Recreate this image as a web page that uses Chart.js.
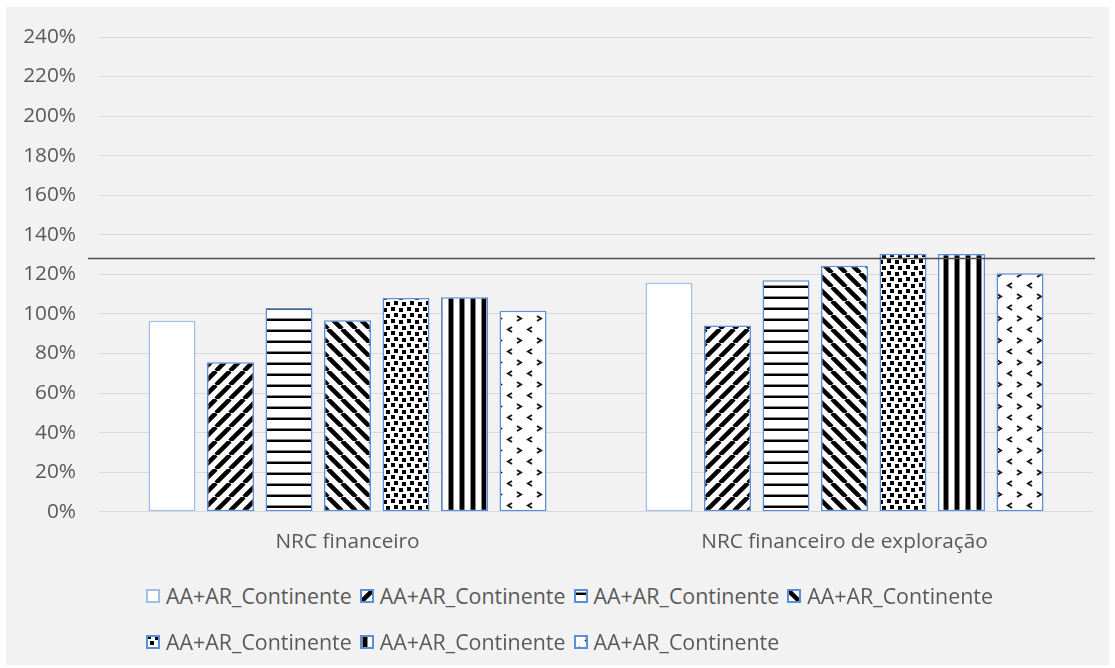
<!DOCTYPE html>
<html lang="pt">
<head>
<meta charset="UTF-8">
<title>NRC financeiro</title>
<script src="https://cdn.jsdelivr.net/npm/chart.js"></script>
<style>
  body { margin: 0; background: #fff; }
  #box { position: absolute; left: 6px; top: 7px; width: 1103px; height: 658px; background: #f2f2f2; }
  #chart { position: absolute; left: 0; top: 0; }
  #legend { position: absolute; left: 140px; top: 577px; width: 880px; display: flex; flex-wrap: wrap; row-gap: 22px;
            font: 21.4px 'Open Sans'; color: #595959; line-height: 24px; }
  .item { display: inline-flex; align-items: center; margin-right: 8px; white-space: nowrap; }
  .item canvas { margin-right: 6px; }
</style>
</head>
<body>
<div id="box">
  <canvas id="chart" width="1103" height="565"></canvas>
  <div id="legend"></div>
</div>

<script>
  const categories = ['NRC financeiro', 'NRC financeiro de exploração'];
  const seriesNames = ['AA+AR_Continente', 'AA+AR_Continente', 'AA+AR_Continente', 'AA+AR_Continente',
                       'AA+AR_Continente', 'AA+AR_Continente', 'AA+AR_Continente'];
  const series1 = [96.6, 115.8];
  const series2 = [75.5, 94.2];
  const series3 = [103.0, 117.0];
  const series4 = [96.8, 124.4];
  const series5 = [108.0, 130.4];
  const series6 = [108.4, 130.3];
  const series7 = [101.6, 120.5];
  const refValue = 128;
  const yTicks = { min: 0, max: 240, step: 20 };

  const allSeries = [series1, series2, series3, series4, series5, series6, series7];
  const fills = ['solid', 'up', 'hlines', 'down', 'confetti', 'vlines', 'divot'];

  // pattern tiles, roughly like the excel pattern fills
  function makePattern(kind) {
    if (kind === 'solid') return '#ffffff';
    const t = document.createElement('canvas');
    const c = t.getContext('2d');
    let w = 14, h = 14;
    if (kind === 'hlines') { w = 8; h = 11; }
    if (kind === 'vlines') { w = 11; h = 8; }
    if (kind === 'confetti') { w = 16; h = 12; }
    if (kind === 'divot') { w = 20; h = 22; }
    t.width = w; t.height = h;
    c.fillStyle = '#fff';
    c.fillRect(0, 0, w, h);
    c.fillStyle = '#000';
    c.strokeStyle = '#000';
    if (kind === 'up' || kind === 'down') {
      c.lineWidth = 4.5;
      c.beginPath();
      for (const o of [-w, 0, w]) {
        if (kind === 'up') { c.moveTo(o, h); c.lineTo(o + w, 0); }
        else { c.moveTo(o, 0); c.lineTo(o + w, h); }
      }
      c.stroke();
    } else if (kind === 'hlines') {
      c.fillStyle = '#888'; c.fillRect(0, 3, w, 1);
      c.fillStyle = '#000'; c.fillRect(0, 4, w, 2);
    } else if (kind === 'vlines') {
      c.fillStyle = '#888'; c.fillRect(2, 0, 1, h); c.fillRect(7, 0, 1, h);
      c.fillStyle = '#000'; c.fillRect(3, 0, 4, h);
    } else if (kind === 'confetti') {
      [[1, 0], [9, 1], [4, 6], [12, 7]].forEach(p => c.fillRect(p[0], p[1], 4, 4));
    } else if (kind === 'divot') {
      c.strokeStyle = '#1a1a1a';
      c.lineWidth = 2;
      c.beginPath();
      c.moveTo(11, 1); c.lineTo(15, 3.5); c.lineTo(11, 6);
      c.moveTo(6, 12); c.lineTo(2, 14.5); c.lineTo(6, 17);
      c.stroke();
    }
    return c.createPattern(t, 'repeat');
  }

  // the dark horizontal reference line, a bit wider than the plot
  const refLinePlugin = {
    id: 'refLine',
    afterDatasetsDraw(chart) {
      const { ctx, chartArea, scales } = chart;
      const y = scales.y.getPixelForValue(refValue);
      ctx.save();
      ctx.strokeStyle = '#4d4d4d';
      ctx.lineWidth = 1.5;
      ctx.beginPath();
      ctx.moveTo(chartArea.left - 11, y);
      ctx.lineTo(chartArea.right + 2, y);
      ctx.stroke();
      ctx.restore();
    }
  };

  function draw() {
    Chart.defaults.font.family = "'Open Sans'";
    Chart.defaults.font.size = 20;
    Chart.defaults.color = '#595959';

    const datasets = allSeries.map((s, i) => ({
      label: seriesNames[i],
      data: s,
      backgroundColor: makePattern(fills[i]),
      borderColor: i === 0 ? '#9fbfe8' : '#5b8fd9',
      borderWidth: 1.5,
      borderSkipped: false,
      categoryPercentage: 0.824,
      barPercentage: 0.803
    }));

    const chart = new Chart(document.getElementById('chart'), {
      type: 'bar',
      data: { labels: categories, datasets },
      options: {
        responsive: false,
        animation: false,
        layout: { padding: { top: 30, left: 10, right: 16, bottom: 17.3 } },
        plugins: { legend: { display: false }, tooltip: { enabled: false } },
        scales: {
          x: {
            grid: { display: false, drawTicks: false },
            border: { display: false },
            ticks: { padding: 18, font: { size: 20.8 } },
            afterFit(s) { s.height = 43; s.paddingLeft = 0; s.paddingRight = 0; }
          },
          y: {
            min: yTicks.min,
            max: yTicks.max,
            grid: { color: '#d9d9d9', lineWidth: 1, drawTicks: false },
            border: { display: false },
            ticks: { stepSize: yTicks.step, padding: 23, font: { size: 20.8 }, callback: v => v + '%' },
            afterFit(s) { s.width = 83; s.paddingTop = 0; s.paddingBottom = 0; }
          }
        }
      },
      plugins: [refLinePlugin]
    });

    // html legend, rows left aligned like the original
    const legend = document.getElementById('legend');
    chart.data.datasets.forEach(ds => {
      const item = document.createElement('span');
      item.className = 'item';
      const sw = document.createElement('canvas');
      sw.width = 14; sw.height = 14;
      const c = sw.getContext('2d');
      c.fillStyle = ds.backgroundColor;
      c.fillRect(0, 0, 14, 14);
      c.strokeStyle = ds.borderColor;
      c.lineWidth = 2;
      c.strokeRect(1, 1, 12, 12);
      item.appendChild(sw);
      item.appendChild(document.createTextNode(ds.label));
      legend.appendChild(item);
    });
  }

  document.fonts.load("20px 'Open Sans'").then(draw, draw);
</script>
</body>
</html>
